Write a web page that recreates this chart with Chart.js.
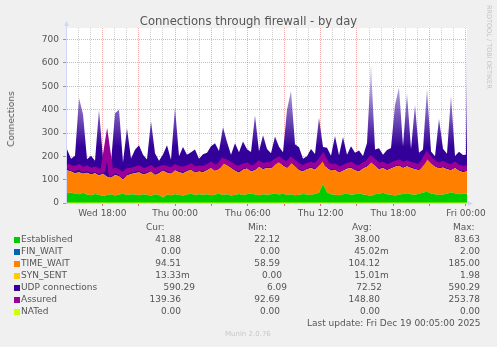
<!DOCTYPE html>
<html><head><meta charset="utf-8">
<script src="https://cdn.jsdelivr.net/npm/chart.js@4.4.1/dist/chart.umd.min.js"></script>
<style>
html,body{margin:0;padding:0;background:#f0f0f0;}
#wrap{position:relative;width:497px;height:347px;overflow:hidden;background:#f0f0f0;font-family:"DejaVu Sans",sans-serif;color:#555;}
#c{position:absolute;left:0;top:0;}
.t{position:absolute;white-space:nowrap;font-size:9px;line-height:12px;}
.sq{position:absolute;width:6px;height:6px;}
</style></head><body>
<div id="wrap"><canvas id="c" width="497" height="347"></canvas></div>
<script>
// ---- data ----
const established = [42,45,40,38,44,36,33,39,35,30,34,37,32,36,40,34,38,
  36,33,38,35,31,37,34,24,36,33,38,35,32,36,40,34,37,
  35,38,33,36,40,34,37,32,35,39,34,38,41,36,33,37,35,
  38,42,36,40,34,37,33,35,39,36,34,40,44,82,46,38,35,
  33,37,40,35,38,42,36,34,30,37,40,44,38,35,32,36,39,
  42,38,35,40,45,48,41,37,34,36,40,46,42,38,40,
  40,41.88];
const finWait = [0,0,0,0,0,0,0,0,0,0,0,0,0,0,0,0,0,
  0,0,0,0,0,0,0,0,0,0,0,0,0,0,0,0,0,
  0,0,0,0,0,0,2,0,0,0,0,0,0,0,0,0,0,
  0,0,0,0,0,0,0,0,0,0,0,0,0,0,0,0,0,
  0,0,0,0,0,0,0,0,0,0,0,0,0,0,0,0,0,
  0,0,0,0,0,0,0,0,0,0,0,0,0,0,0,
  0,0];
const timeWait = [98,90,88,94,81,94,89,89,83,95,78,71,88,79,60,84,86,
  92,99,84,91,104,83,94,114,94,92,102,97,96,100,102,96,98,
  97,102,117,102,105,136,123,118,103,91,108,110,94,104,122,108,115,
  110,123,139,120,116,135,125,105,96,109,116,102,116,103,104,100,107,
  97,101,105,115,102,93,112,121,145,123,105,106,102,113,123,124,111,
  116,112,110,100,115,147,129,118,114,116,105,94,108,100,92,
  95,94.51];
const synSent = [0,0,0,0,0,0,0,0,0,0,0,0,0,0,0,0,0,
  0,0,0,0,0,0,0,0,0,0,0,0,0,0,0,0,0,
  0,0,0,0,0,0,0,0,0,0,0,0,0,0,0,0,0,
  0,0,0,0,0,0,0,0,0,0,0,0,0,0,0,0,0,
  0,0,1.98,0,0,0,0,0,0,0,0,0,0,0,0,0,0,
  0,0,0,0,0,0,0,0,0,0,0,0,0,0,0,
  0,0.01333];
const udp = [90,55,75,318,255,57,80,53,282,65,105,65,265,285,75,202,67,
  100,115,85,60,215,93,53,70,117,60,270,68,112,71,75,99,55,
  77,75,93,118,78,155,99,57,118,87,122,82,84,235,66,145,81,
  65,120,66,57,250,308,94,99,55,55,81,68,205,55,87,65,145,
  75,145,60,93,75,90,53,102,415,69,90,57,87,88,265,335,93,
  312,81,275,75,69,295,51,45,212,80,66,320,51,82,74,
  72,590.29];
const assured = [160,150,148,155,142,150,140,145,135,142,250,128,140,132,118,138,140,
  145,150,140,142,150,138,145,152,148,140,155,148,145,150,158,145,150,
  148,155,165,152,160,182,175,165,152,148,158,162,150,155,170,160,165,
  162,178,188,175,165,185,172,158,150,160,165,158,175,198,165,155,158,
  145,152,160,165,155,150,162,170,190,175,160,165,155,162,170,175,165,
  172,165,160,155,175,205,185,170,162,168,160,155,165,152,148,
  150,139.36];
const nated = established.map(() => 0);

// sample times, hours since Wed 00:00 (every ~20 min from Wed 15:05, plus last two samples)
const START_H = 15.0833, STEP_H = 0.33;
const times = established.map((_, i) => i < 100 ? START_H + i * STEP_H : [48.0, 48.0833][i - 100]);

const tickHours = [18, 24, 30, 36, 42, 48];
const tickLabels = ['Wed 18:00', 'Thu 00:00', 'Thu 06:00', 'Thu 12:00', 'Thu 18:00', 'Fri 00:00'];

const seriesNames = ['Established', 'FIN_WAIT', 'TIME_WAIT', 'SYN_SENT', 'UDP connections', 'Assured', 'NATed'];
const seriesColors = ['#00CC00', '#0066B3', '#FF8000', '#FFCC00', '#330099', '#990099', '#CCFF00'];
const curVals = ['41.88', '0.00', '94.51', '13.33m', '590.29', '139.36', '0.00'];
const minVals = ['22.12', '0.00', '58.59', '0.00', '6.09', '92.69', '0.00'];
const avgVals = ['38.00', '45.02m', '104.12', '15.01m', '72.52', '148.80', '0.00'];
const maxVals = ['83.63', '2.00', '185.00', '1.98', '590.29', '253.78', '0.00'];

// ---- chart ----
const pts = arr => arr.map((v, i) => ({x: times[i], y: v}));
const area = (k, arr, fill, bg) => ({label: seriesNames[k], data: pts(arr), backgroundColor: bg || seriesColors[k],
  borderColor: seriesColors[k], borderWidth: 0, fill: fill, stack: 's', pointRadius: 0, tension: 0});

// spikes of the UDP area fade toward their tips, as in the downsampled RRD picture
const udpFill = c => {
  const ch = c.chart, ys = ch.scales.y;
  if (!ch.chartArea || !ys) return seriesColors[4];
  const g = ch.ctx.createLinearGradient(0, ys.getPixelForValue(240), 0, ys.getPixelForValue(520));
  g.addColorStop(0, 'rgba(51,0,153,1)');
  g.addColorStop(1, 'rgba(51,0,153,0.3)');
  return g;
};

const MAJ = 'rgba(235,70,70,0.45)', MIN = 'rgba(150,150,150,0.45)', AXIS = '#CFD6F8';

const rrdFrame = {
  id: 'rrdFrame',
  beforeDraw(chart) {
    const {ctx, chartArea: a} = chart;
    ctx.save(); ctx.fillStyle = '#ffffff';
    ctx.fillRect(a.left, a.top, a.right - a.left, a.bottom - a.top);
    ctx.restore();
  },
  afterDraw(chart) {
    const {ctx, chartArea: a} = chart;
    ctx.save();
    ctx.strokeStyle = AXIS; ctx.fillStyle = AXIS; ctx.lineWidth = 1;
    ctx.beginPath(); ctx.moveTo(a.left - 0.5, a.bottom + 0.5); ctx.lineTo(a.left - 0.5, a.top - 3); ctx.stroke();
    ctx.beginPath(); ctx.moveTo(a.left - 0.5, a.bottom + 0.5); ctx.lineTo(a.right + 3, a.bottom + 0.5); ctx.stroke();
    ctx.beginPath(); ctx.moveTo(a.left - 3, a.top - 2); ctx.lineTo(a.left + 2, a.top - 2); ctx.lineTo(a.left - 0.5, a.top - 7); ctx.closePath(); ctx.fill();
    ctx.beginPath(); ctx.moveTo(a.right + 1, a.bottom - 2); ctx.lineTo(a.right + 1, a.bottom + 3); ctx.lineTo(a.right + 6, a.bottom + 0.5); ctx.closePath(); ctx.fill();
    ctx.restore();
  }
};

new Chart(document.getElementById('c'), {
  type: 'line',
  data: {datasets: [
    area(0, established, 'origin'),
    area(1, finWait, '-1'),
    area(2, timeWait, '-1'),
    area(3, synSent, '-1'),
    area(4, udp, '-1', udpFill),
    {label: seriesNames[5], data: pts(assured), borderColor: seriesColors[5], borderWidth: 5, fill: false, stack: 'a', pointRadius: 0, tension: 0, order: -2},
    {label: seriesNames[6], data: pts(nated), borderColor: seriesColors[6], borderWidth: 1, fill: false, stack: 'n', pointRadius: 0, tension: 0, order: -1}
  ]},
  options: {
    responsive: false, animation: false, devicePixelRatio: 1,
    layout: {padding: {left: 0, top: 28, right: 30, bottom: 124}},
    plugins: {legend: {display: false}, tooltip: {enabled: false}, filler: {drawTime: 'beforeDatasetsDraw'}},
    scales: {
      x: {
        type: 'linear', min: 15.0833, max: 48.0833,
        afterFit: s => { s.height = 20; },
        afterBuildTicks: s => { const t = []; for (let h = 16; h <= 48; h++) t.push({value: h}); s.ticks = t; },
        ticks: {autoSkip: false, maxRotation: 0, padding: 2, color: '#555',
          font: {family: 'DejaVu Sans', size: 9},
          callback: v => { const k = tickHours.indexOf(v); return k >= 0 ? tickLabels[k] : ''; }},
        grid: {color: c => (c.tick && c.tick.value % 3 === 0) ? MAJ : MIN, lineWidth: 1,
          tickLength: 3, tickColor: c => (c.tick && c.tick.value % 3 === 0) ? 'rgba(235,70,70,0.8)' : 'rgba(0,0,0,0)'},
        border: {display: false, dash: [1, 1]}
      },
      y: {
        stacked: true, min: 0, max: 750,
        afterFit: s => { s.width = 67; },
        ticks: {stepSize: 50, padding: 4, color: '#555', font: {family: 'DejaVu Sans', size: 9},
          callback: v => v % 100 === 0 ? String(v) : ''},
        grid: {color: c => (c.tick && c.tick.value % 100 === 0) ? MAJ : MIN, lineWidth: 1,
          tickLength: 4, tickColor: c => (c.tick && c.tick.value % 100 === 0) ? '#999' : 'rgba(0,0,0,0)'},
        border: {display: false, dash: [1, 1]}
      }
    }
  },
  plugins: [rrdFrame]
});

// ---- text around the chart ----
const wrap = document.getElementById('wrap');
function txt(s, css) { const d = document.createElement('div'); d.className = 't'; d.textContent = s; Object.assign(d.style, css); wrap.appendChild(d); return d; }
txt('Connections through firewall - by day', {left: '0px', width: '497px', textAlign: 'center', top: '14px', fontSize: '11.6px', lineHeight: '14px', color: '#555'});
txt('Connections', {left: '11px', top: '119px', transform: 'translate(-50%,-50%) rotate(-90deg)', fontSize: '9px'});
txt('RRDTOOL / TOBI OETIKER', {left: '485px', top: '5px', writingMode: 'vertical-rl', fontSize: '6.5px', lineHeight: '7px', color: '#c4c4c4'});

const colRight = [181, 280, 380, 480];
const rowShift = [[0,0,0,0],[0,0,0,0],[0,0,0,0],[0,2,0,0],[14,7,2,0],[0,0,0,0],[0,0,0,0]];
const headers = ['Cur:', 'Min:', 'Avg:', 'Max:'];
const headerLeft = [146, 248, 352, 453];
headers.forEach((h, k) => txt(h, {left: headerLeft[k] + 'px', top: '221px'}));
const cols = [curVals, minVals, avgVals, maxVals];
seriesNames.forEach((name, r) => {
  const top = 233 + 12 * r;
  const sq = document.createElement('div'); sq.className = 'sq';
  Object.assign(sq.style, {left: '14px', top: (top + 4) + 'px', background: seriesColors[r]});
  wrap.appendChild(sq);
  txt(name, {left: '21px', top: top + 'px'});
  cols.forEach((col, k) => {
    const v = col[r];
    const hasUnit = /[a-zA-Z]$/.test(v);
    const num = hasUnit ? v.slice(0, -1) : v;
    const edge = colRight[k] + rowShift[r][k];
    txt(num, {left: (edge - 100) + 'px', width: '100px', textAlign: 'right', top: top + 'px'});
    if (hasUnit) txt(v.slice(-1), {left: edge + 'px', top: top + 'px'});
  });
});
txt('Last update: Fri Dec 19 00:05:00 2025', {left: '307px', top: '317px'});
txt('Munin 2.0.76', {left: '225px', top: '329px', fontSize: '7px', lineHeight: '10px', color: '#c8c8c8'});
</script>
</body></html>
